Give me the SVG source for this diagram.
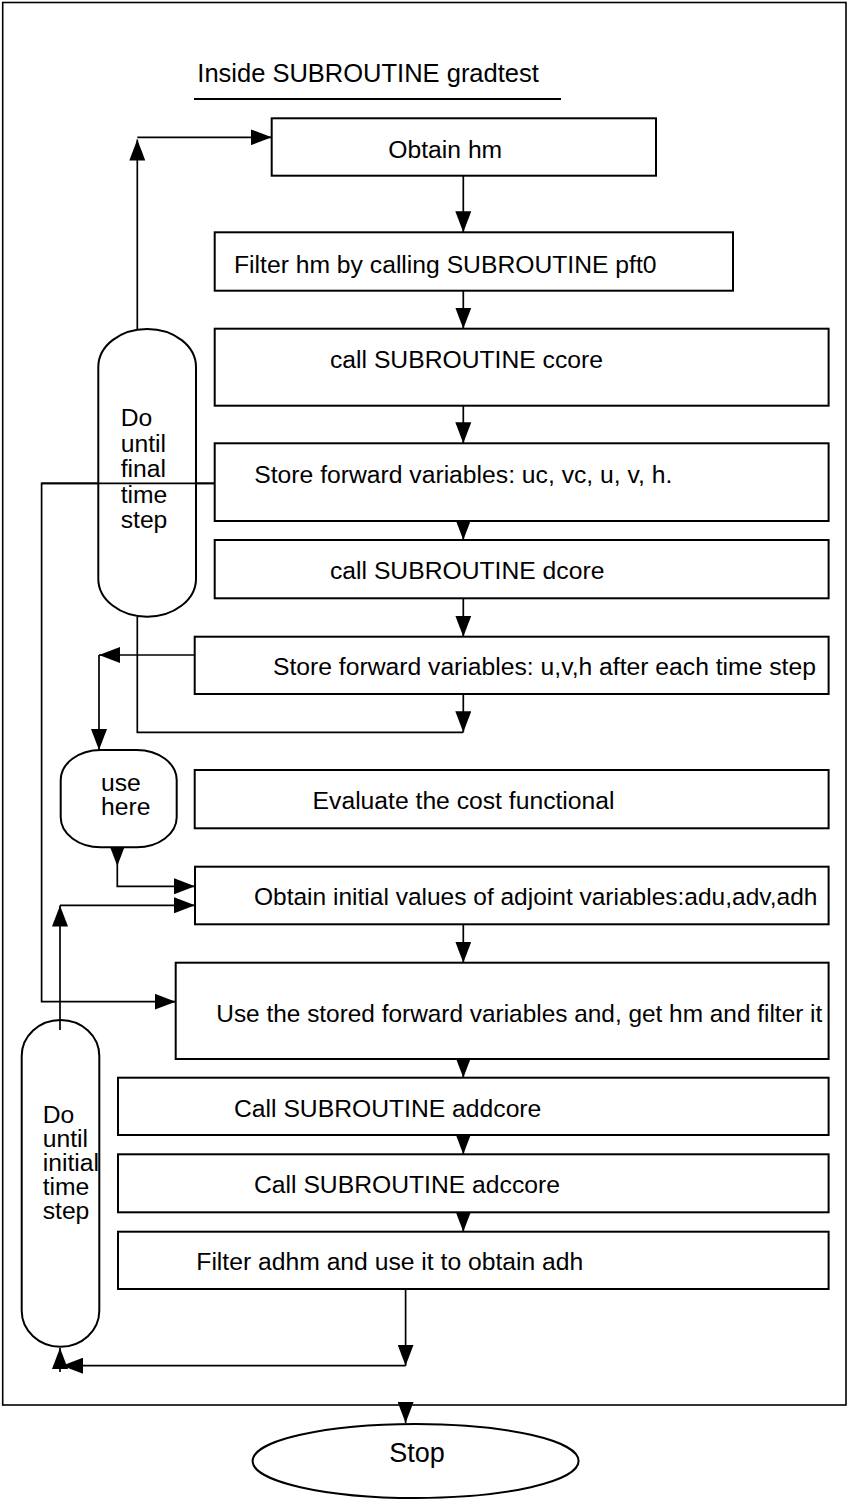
<svg xmlns="http://www.w3.org/2000/svg" width="848" height="1501" viewBox="0 0 848 1501">
  <style>
    text { font-family: "Liberation Sans", Arial, Helvetica, sans-serif; font-size: 24.7px; fill: #000; }
    .box { fill: #fff; stroke: #000; stroke-width: 2; }
    .frame { fill: none; stroke: #000; stroke-width: 1.6; }
    .wire { fill: none; stroke: #000; stroke-width: 1.7; }
    .arr { fill: none; stroke: #000; stroke-width: 1.7; marker-end: url(#head); }
  </style>
  <defs>
    <marker id="head" viewBox="0 0 21 16" markerWidth="21" markerHeight="16" markerUnits="userSpaceOnUse" refX="21" refY="8" orient="auto">
      <path d="M0,0 L21,8 L0,16 z" fill="#000"/>
    </marker>
  </defs>

  <!-- outer frame of the subroutine -->
  <rect class="frame" x="2.7" y="2.5" width="843.3" height="1402.5"/>

  <g id="title">
    <text x="197.3" y="81.7" style="font-size:25.5px">Inside SUBROUTINE gradtest</text>
    <line x1="194" y1="99" x2="561" y2="99" stroke="#000" stroke-width="2"/>
  </g>

  <!-- connectors -->
  <g id="connectors">
    <!-- forward loop back to the top -->
    <path class="arr" d="M137.3,329 V139.5"/>
    <path class="arr" d="M137.3,137.3 H271.7"/>
    <path class="arr" d="M463.3,175.7 V232.3"/>
    <path class="arr" d="M463.3,290.7 V328.7"/>
    <path class="arr" d="M463.3,405.7 V443.3"/>
    <path class="arr" d="M463.3,521 V540"/>
    <path class="arr" d="M463.3,598.3 V636.7"/>
    <path class="arr" d="M463.3,694 V732.3"/>
    <path class="wire" d="M137.3,616.7 V732.3 H463.3"/>
    <!-- stored forward variables routed to the adjoint part -->
    <path class="arr" d="M214.7,483.3 H41.6 V1001.7 H175.7"/>
    <path class="arr" d="M194.7,655 H99"/>
    <path class="arr" d="M99,655 V750"/>
    <path class="arr" d="M117.3,847.3 V866"/>
    <path class="arr" d="M117.3,866 V886.3 H195"/>
    <!-- backward loop -->
    <path class="arr" d="M60,1020 V905.5"/>
    <path class="arr" d="M60,905.3 H195"/>
    <path class="arr" d="M463.3,924.3 V962.7"/>
    <path class="arr" d="M463.3,1059 V1077.7"/>
    <path class="arr" d="M463.3,1135 V1154.3"/>
    <path class="arr" d="M463.3,1212.3 V1231.7"/>
    <path class="arr" d="M405.6,1289 V1365.7"/>
    <path class="arr" d="M405.6,1365.7 H62"/>
    <path class="arr" d="M60,1372 V1348"/>
    <path class="arr" d="M405.6,1405 V1423"/>
  </g>

  <g id="obtain-hm">
    <rect class="box" x="271.7" y="118.3" width="384.3" height="57.4"/>
    <text x="388.3" y="158.3">Obtain hm</text>
  </g>
  <g id="filter-hm">
    <rect class="box" x="214.7" y="232.3" width="518.3" height="58.4"/>
    <text x="234" y="272.7">Filter hm by calling SUBROUTINE pft0</text>
  </g>
  <g id="ccore">
    <rect class="box" x="214.7" y="328.7" width="613.9" height="77"/>
    <text x="330" y="368">call SUBROUTINE ccore</text>
  </g>
  <g id="store-forward">
    <rect class="box" x="214.7" y="443.3" width="613.9" height="77.7"/>
    <text x="254.3" y="483.3">Store forward variables: uc, vc, u, v, h.</text>
  </g>
  <g id="dcore">
    <rect class="box" x="214.7" y="540" width="613.9" height="58.3"/>
    <text x="330" y="579.3">call SUBROUTINE dcore</text>
  </g>
  <g id="store-each-step">
    <rect class="box" x="194.7" y="636.7" width="633.9" height="57.3"/>
    <text x="273" y="675">Store forward variables: u,v,h after each time step</text>
  </g>
  <g id="loop-forward">
    <rect class="box" x="98.3" y="329" width="97.7" height="287.7" rx="48.8" ry="38"/>
    <text x="120.7" y="426">Do</text>
    <text x="120.7" y="452.3">until</text>
    <text x="120.7" y="477.3">final</text>
    <text x="120.7" y="502.7">time</text>
    <text x="120.7" y="528.3">step</text>
  </g>
  <!-- the line that crosses the loop symbol -->
  <line class="wire" x1="41.6" y1="483.3" x2="214.7" y2="483.3"/>

  <g id="use-here">
    <rect class="box" x="60.7" y="750" width="116" height="97.3" rx="40" ry="30"/>
    <text x="101" y="790.7">use</text>
    <text x="101" y="815">here</text>
  </g>
  <g id="cost">
    <rect class="box" x="194.7" y="770" width="633.9" height="58.3"/>
    <text x="312.6" y="809.3">Evaluate the cost functional</text>
  </g>
  <g id="adjoint-init">
    <rect class="box" x="195" y="866.7" width="633.6" height="57.6"/>
    <text x="254" y="905" style="font-size:24.5px">Obtain initial values of adjoint variables:adu,adv,adh</text>
  </g>
  <g id="use-stored">
    <rect class="box" x="175.7" y="962.7" width="652.9" height="96.3"/>
    <text x="216.3" y="1021.7" style="font-size:24.4px">Use the stored forward variables and, get hm and filter it</text>
  </g>
  <g id="addcore">
    <rect class="box" x="118" y="1077.7" width="710.6" height="57.3"/>
    <text x="234" y="1116.7">Call SUBROUTINE addcore</text>
  </g>
  <g id="adccore">
    <rect class="box" x="118" y="1154.3" width="710.6" height="58"/>
    <text x="254" y="1193.3">Call SUBROUTINE adccore</text>
  </g>
  <g id="filter-adhm">
    <rect class="box" x="118" y="1231.7" width="710.6" height="57.3"/>
    <text x="196.3" y="1270">Filter adhm and use it to obtain adh</text>
  </g>
  <g id="loop-backward">
    <rect class="box" x="21.7" y="1020" width="77.6" height="326.7" rx="38.8" ry="36"/>
    <g style="font-size:20.5px">
      <text x="42.7" y="1123">Do</text>
      <text x="42.7" y="1147">until</text>
      <text x="42.7" y="1171">initial</text>
      <text x="42.7" y="1195">time</text>
      <text x="42.7" y="1219">step</text>
    </g>
  </g>
  <!-- vertical connector drawn over the loop symbol top -->
  <line class="wire" x1="60" y1="1020" x2="60" y2="1030"/>

  <g id="stop">
    <ellipse class="box" cx="415.6" cy="1461" rx="163" ry="37"/>
    <text x="417" y="1461.7" text-anchor="middle" style="font-size:27px">Stop</text>
  </g>
</svg>
